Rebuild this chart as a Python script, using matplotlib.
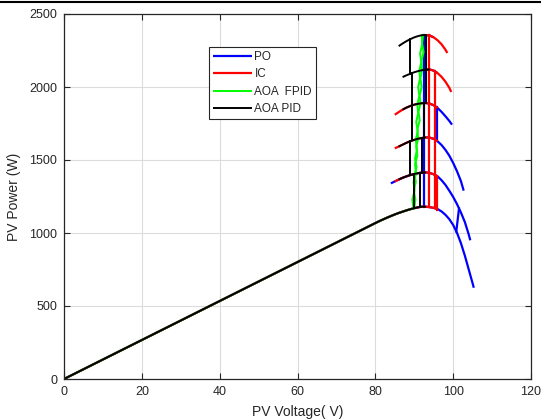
import matplotlib
matplotlib.use('Agg')
import matplotlib.pyplot as plt
from matplotlib.lines import Line2D
import numpy as np

plt.rcParams['font.family'] = ['Liberation Sans', 'DejaVu Sans']

# ---- Tabulated P-V curves (PV voltage V, PV power W) ----
c1_v = [0, 20, 40, 60, 80, 81, 82, 83, 84, 85, 86, 87, 88, 89, 90, 91, 92, 93, 94, 95, 96, 97, 98, 99, 100, 101, 102, 103, 104, 105, 105.3]
c1_p = [0, 267, 534, 801, 1068, 1081, 1093, 1105, 1116, 1127, 1137, 1146, 1155, 1163, 1170, 1176, 1180, 1180, 1177, 1172, 1164, 1148, 1125, 1095, 1055, 1000, 930, 845, 750, 655, 625]
c2_v = [84, 85, 86, 87, 88, 89, 90, 91, 92, 93, 94, 95, 96, 97, 98, 99, 100, 101, 102, 103, 104, 104.4]
c2_p = [1340, 1353, 1366, 1378, 1388, 1397, 1404, 1410, 1414, 1415, 1411, 1402, 1388, 1362, 1330, 1290, 1247, 1197, 1140, 1075, 990, 950]
c3_v = [85, 86, 87, 88, 89, 90, 91, 92, 93, 94, 95, 96, 97, 98, 99, 100, 101, 102, 102.7]
c3_p = [1580, 1592, 1605, 1618, 1629, 1638, 1646, 1651, 1655, 1653, 1645, 1628, 1603, 1570, 1530, 1480, 1422, 1355, 1290]
c4_v = [85, 86, 87, 88, 89, 90, 91, 92, 93, 94, 95, 96, 97, 98, 99, 99.7]
c4_p = [1810, 1828, 1845, 1859, 1870, 1879, 1885, 1889, 1890, 1886, 1875, 1856, 1830, 1800, 1768, 1742]
c5_v = [87, 88, 89, 90, 91, 92, 93, 94, 95, 96, 97, 98, 99, 99.5]
c5_p = [2068, 2080, 2091, 2101, 2109, 2115, 2119, 2120, 2112, 2095, 2070, 2037, 1995, 1966]
c6_v = [86, 87, 88, 89, 90, 91, 92, 93, 94, 95, 96, 97, 98, 98.5]
c6_p = [2280, 2298, 2314, 2328, 2340, 2349, 2355, 2356, 2352, 2340, 2320, 2293, 2256, 2233]

curves_v = [c1_v, c2_v, c3_v, c4_v, c5_v, c6_v]
curves_p = [c1_p, c2_p, c3_p, c4_p, c5_p, c6_p]

# ---- Portions of each curve traced by each method: (curve index, V from, V to) ----
po_arcs = [(0, 0, 105.3), (1, 84, 104.4), (2, 93, 102.7), (3, 93, 99.7), (4, 93, 96), (5, 93, 95)]
ic_arcs = [(0, 0, 96), (1, 85, 96), (2, 85, 96), (3, 85, 96), (4, 93, 99.5), (5, 93, 98.5)]
fpid_arcs = [(0, 0, 90)]
pid_arcs = [(0, 0, 93), (1, 86, 93), (2, 86, 93), (3, 87, 93), (4, 87, 94), (5, 86, 93)]

# ---- Vertical jumps at irradiance steps: (V, P from, P to) ----
po_vert = [(92.4, 1180, 2356), (95.8, 1631, 1860)]
po_spike_v = [100.8, 101.5]
po_spike_p = [1010, 1168]
ic_vert = [(93.8, 1178, 2354), (95.3, 1170, 2110), (95.9, 1160, 1390)]
pid_vert = [(90.0, 1170, 1404), (91.5, 1178, 1412),
            (89.0, 1397, 1629), (92.0, 1414, 1651),
            (89.5, 1634, 1875), (92.5, 1653, 1890),
            (89.5, 1875, 2096), (93.0, 1890, 2119),
            (89.0, 2091, 2328), (93.0, 2119, 2356)]

# ---- AOA FPID wandering paths (V, P) ----
fpid_up_v = [90.0, 90.3, 89.9, 90.4, 90.1, 90.6, 90.2, 90.7, 90.4, 90.9, 90.5, 91.0, 90.8, 91.3, 91.0, 91.5, 91.3, 91.8, 91.5, 92.0, 92.0]
fpid_up_p = [1170, 1230, 1290, 1350, 1404, 1450, 1510, 1570, 1638, 1700, 1760, 1820, 1883, 1940, 2000, 2060, 2110, 2170, 2230, 2290, 2355]
fpid_dn_v = [92.3, 92.0, 92.4, 91.9, 92.0, 91.6, 91.9, 91.4, 91.6, 91.1, 91.4, 90.8, 91.0, 90.5, 90.8, 90.2, 90.5, 89.8, 90.1, 89.5, 89.8]
fpid_dn_p = [2355, 2300, 2240, 2180, 2115, 2060, 2000, 1940, 1887, 1830, 1770, 1710, 1646, 1590, 1530, 1470, 1406, 1350, 1290, 1230, 1168]

x_ticks = [0, 20, 40, 60, 80, 100, 120]
y_ticks = [0, 500, 1000, 1500, 2000, 2500]

W, H = 541, 419
fig = plt.figure(figsize=(W / 100, H / 100), dpi=100)
ax = fig.add_axes([64 / W, (H - 379) / H, (531 - 64) / W, (379 - 14) / H])


def arc(k, lo, hi):
    v = np.array(curves_v[k], dtype=float)
    p = np.array(curves_p[k], dtype=float)
    m = (v >= lo) & (v <= hi)
    return v[m], p[m]


def draw(arcs, verts, color, lw, label):
    first = True
    for k, lo, hi in arcs:
        v, p = arc(k, lo, hi)
        ax.plot(v, p, color=color, lw=lw, label=label if first else None,
                solid_joinstyle='round', solid_capstyle='butt')
        first = False
    for v, p0, p1 in verts:
        ax.plot([v, v], [p0, p1], color=color, lw=lw)


draw(po_arcs, po_vert, '#0000ff', 1.6, 'PO')
ax.plot(po_spike_v, po_spike_p, color='#0000ff', lw=1.6)
draw(ic_arcs, ic_vert, '#ff0000', 1.6, 'IC')
draw(fpid_arcs, [], '#00ff00', 1.4, 'AOA  FPID')
ax.plot(fpid_up_v, fpid_up_p, color='#00ff00', lw=1.4)
ax.plot(fpid_dn_v, fpid_dn_p, color='#00ff00', lw=1.4)
draw(pid_arcs, pid_vert, '#000000', 1.4, 'AOA PID')

ax.set_xlim(0, 120)
ax.set_ylim(0, 2500)
ax.set_xticks(x_ticks)
ax.set_yticks(y_ticks)
ax.grid(True, color='#dcdcdc', lw=0.8)
ax.set_axisbelow(True)
ax.tick_params(direction='in', length=4, width=0.8, colors='#262626',
               labelsize=9, top=True, right=True, pad=5)
for s in ax.spines.values():
    s.set_color('#262626')
    s.set_linewidth(0.9)

ax.set_xlabel('PV Voltage( V)', fontsize=10, color='#262626', labelpad=5)
ax.set_ylabel('PV Power (W)', fontsize=10, color='#262626', labelpad=6)

leg = ax.legend(loc='upper left', bbox_to_anchor=(0.3105, 0.9096), borderaxespad=0,
                fontsize=8.5, frameon=True, fancybox=False, shadow=False,
                handlelength=3.3, handletextpad=0.2, labelspacing=0.45,
                borderpad=0.35)
leg.get_frame().set_edgecolor('#262626')
leg.get_frame().set_linewidth(0.8)
leg.get_frame().set_alpha(1)
for t in leg.get_texts():
    t.set_color('#262626')

fig.add_artist(Line2D([0, 1], [1 - 2.5 / H, 1 - 2.5 / H], color='black', lw=1.5,
                      transform=fig.transFigure))

fig.savefig('out.png', dpi=100)
